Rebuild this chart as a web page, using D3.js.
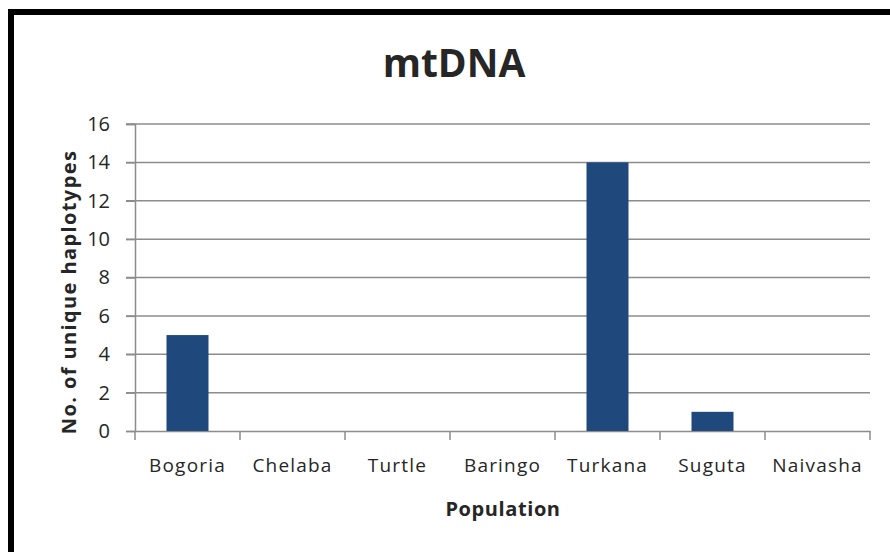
<!DOCTYPE html>
<html>
<head>
<meta charset="utf-8">
<script src="https://cdn.jsdelivr.net/npm/d3@7"></script>
<style>
  body { margin: 0; background: #fff; }
  text { font-family: "Open Sans", "DejaVu Sans", sans-serif; fill: #262626; }
</style>
</head>
<body>
<svg id="chart" width="890" height="552"></svg>
<script>
"use strict";
// data
var populations = ["Bogoria", "Chelaba", "Turtle", "Baringo", "Turkana", "Suguta", "Naivasha"];
var haplotypes = [5, 0, 0, 0, 14, 1, 0];
var yTicks = [0, 2, 4, 6, 8, 10, 12, 14, 16];

var svg = d3.select("#chart");
var margin = {left: 135, right: 20, top: 124, bottom: 121};
var W = 890, H = 552;

// outer frame (right and bottom edges fall outside the picture)
svg.append("rect")
  .attr("x", 11).attr("y", 12)
  .attr("width", 900).attr("height", 600)
  .attr("fill", "none")
  .attr("stroke", "#000")
  .attr("stroke-width", 6);

var x = d3.scaleBand()
  .domain(populations)
  .range([margin.left, W - margin.right])
  .paddingInner(0.6)
  .paddingOuter(0.3);

var xOuter = d3.scaleBand()
  .domain(populations)
  .range([margin.left, W - margin.right]);

var y = d3.scaleLinear()
  .domain([0, 16])
  .range([H - margin.bottom, margin.top]);

// grid lines
svg.append("g")
  .selectAll("line")
  .data(yTicks.filter(d => d > 0))
  .enter()
  .append("line")
  .attr("x1", margin.left - 9)
  .attr("x2", W - margin.right)
  .attr("y1", d => y(d))
  .attr("y2", d => y(d))
  .attr("stroke", "#8c8c8c")
  .attr("stroke-width", 1.5);

// y axis
var yAxis = svg.append("g")
  .attr("transform", "translate(" + margin.left + ",0)")
  .call(d3.axisLeft(y).tickValues(yTicks).tickSize(9).tickPadding(16));
yAxis.selectAll("text")
  .style("font-size", "20px")
  .style("font-family", "'Open Sans', sans-serif")
  .attr("fill", "#262626");

// x axis
var xAxis = svg.append("g")
  .attr("transform", "translate(0," + y(0) + ")")
  .call(d3.axisBottom(xOuter).tickSize(0).tickPadding(28));
xAxis.selectAll("text")
  .style("font-size", "19px")
  .style("letter-spacing", "1.2px")
  .style("font-family", "'Open Sans', sans-serif")
  .attr("fill", "#262626");

// category boundary ticks
xAxis.selectAll(".bound")
  .data(populations.concat(["end"]))
  .enter()
  .append("line")
  .attr("class", "bound")
  .attr("x1", (d, i) => i < populations.length ? xOuter(d) : xOuter.range()[1])
  .attr("x2", (d, i) => i < populations.length ? xOuter(d) : xOuter.range()[1])
  .attr("y1", 0)
  .attr("y2", 9)
  .attr("stroke", "#8c8c8c")
  .attr("stroke-width", 1.5);

svg.selectAll(".domain, .tick line")
  .attr("stroke", "#8c8c8c")
  .attr("stroke-width", 1.5);

// bars
svg.append("g")
  .selectAll("rect")
  .data(populations)
  .enter()
  .append("rect")
  .attr("x", d => x(d))
  .attr("width", x.bandwidth())
  .attr("y", (d, i) => y(haplotypes[i]))
  .attr("height", (d, i) => y(0) - y(haplotypes[i]))
  .attr("fill", "#1F497D");

// title
svg.append("text")
  .attr("x", 454)
  .attr("y", 77)
  .attr("text-anchor", "middle")
  .style("font-size", "39px")
  .style("font-weight", "bold")
  .attr("fill", "#000")
  .text("mtDNA");

// axis titles
svg.append("text")
  .attr("transform", "translate(76,292) rotate(-90)")
  .attr("text-anchor", "middle")
  .style("font-size", "20px")
  .style("letter-spacing", "1.4px")
  .style("font-weight", "bold")
  .attr("fill", "#000")
  .text("No. of unique haplotypes");

svg.append("text")
  .attr("x", 503)
  .attr("y", 516)
  .attr("text-anchor", "middle")
  .style("font-size", "20px")
  .style("letter-spacing", "0.6px")
  .style("font-weight", "bold")
  .attr("fill", "#262626")
  .text("Population");
</script>
</body>
</html>
